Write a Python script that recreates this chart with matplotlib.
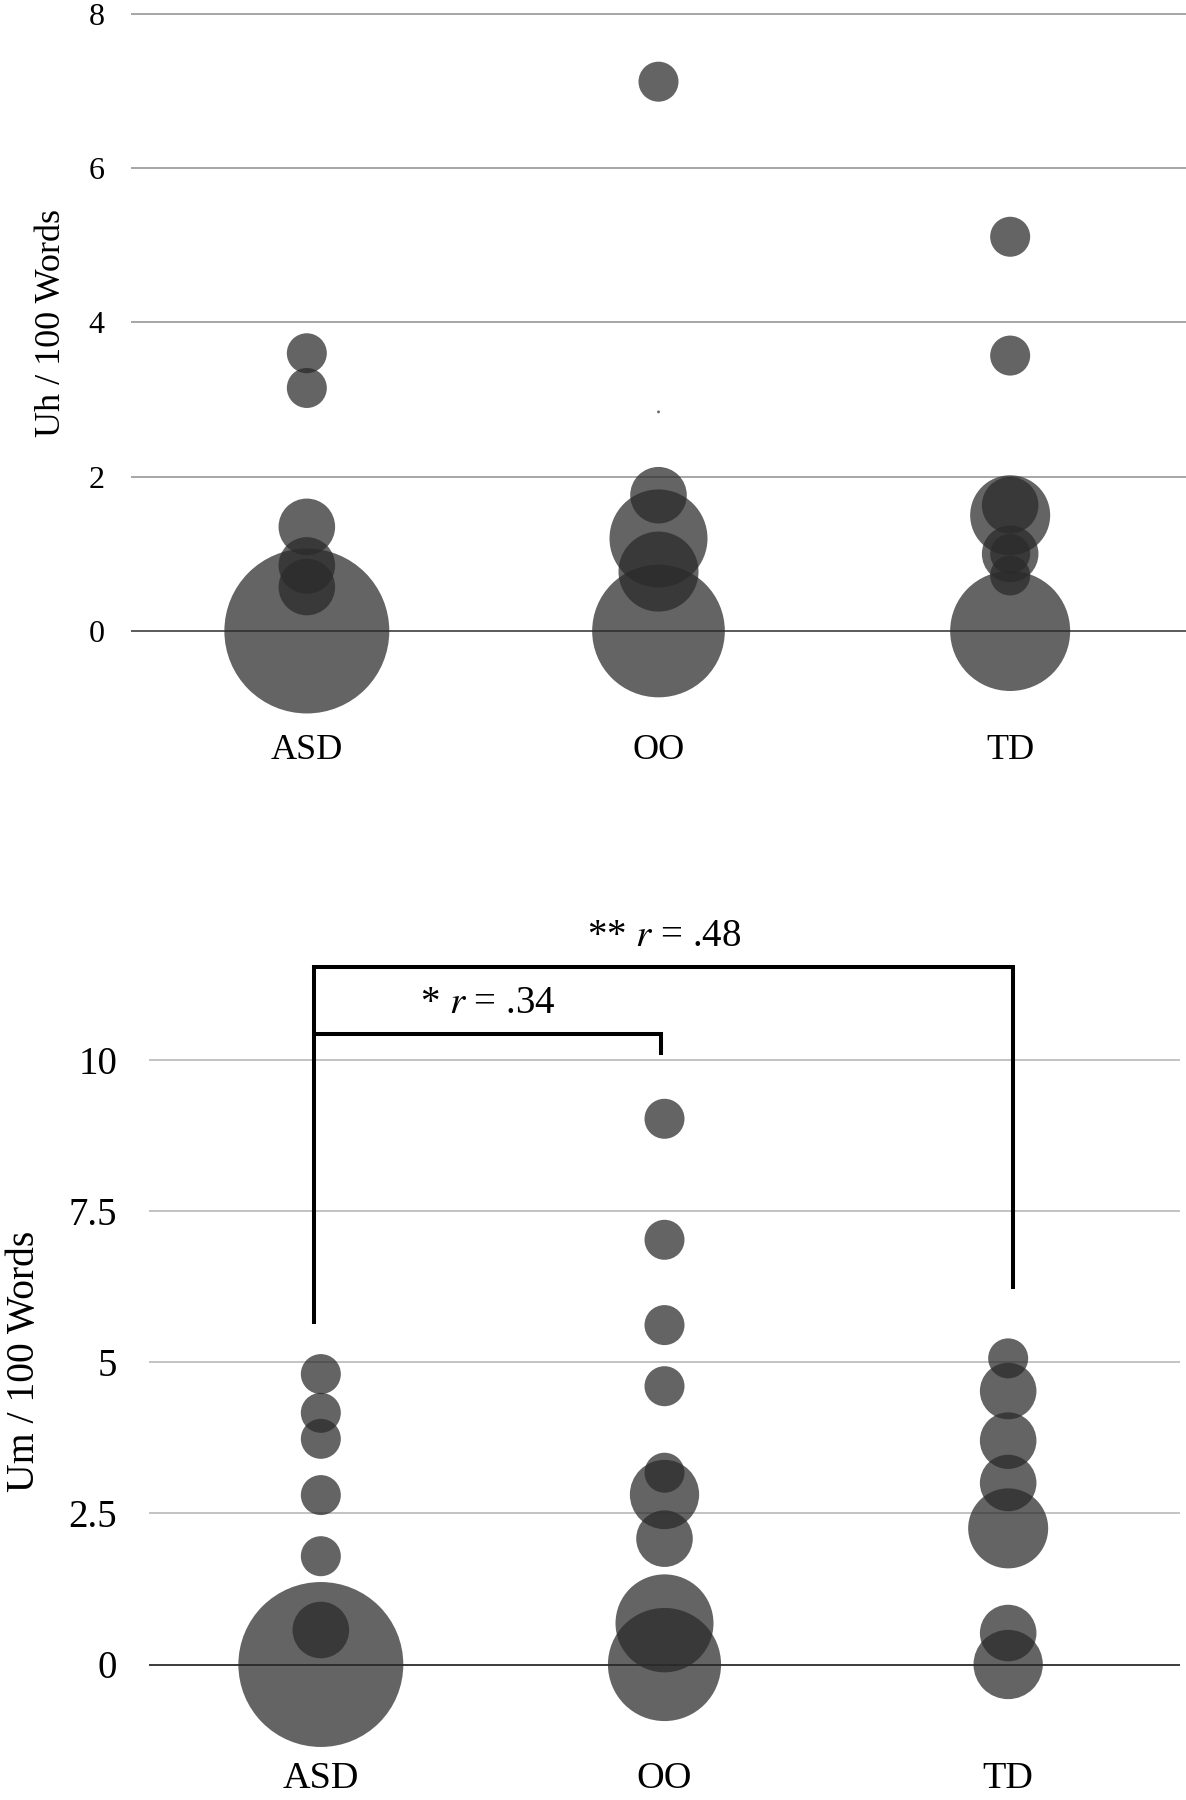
import matplotlib
matplotlib.use('Agg')
import matplotlib.pyplot as plt

W, H, DPI = 1186, 1800, 100
plt.rcParams['font.family'] = ['Liberation Serif', 'DejaVu Serif']
plt.rcParams['mathtext.fontset'] = 'stix'

categories = ['ASD', 'OO', 'TD']

# Top panel: Uh / 100 words (value, bubble size = count)
uh_asd_y = [0, 0.57, 0.85, 1.35, 3.15, 3.6]
uh_asd_n = [17, 2, 2, 2, 1, 1]
uh_oo_y = [0, 0.77, 1.2, 1.76, 2.84, 7.12]
uh_oo_n = [11, 4, 6, 2, 0.005, 1]
uh_td_y = [0, 0.72, 1.0, 1.0, 1.5, 1.63, 3.57, 5.11]
uh_td_n = [9, 1, 1, 2, 4, 2, 1, 1]
uh_ticks = [0, 2, 4, 6, 8]

# Bottom panel: Um / 100 words
um_asd_y = [0, 0.57, 1.79, 2.80, 3.73, 4.16, 4.8]
um_asd_n = [17, 2, 1, 1, 1, 1, 1]
um_oo_y = [0, 0.68, 2.08, 2.81, 3.17, 4.6, 5.61, 7.02, 9.02]
um_oo_n = [8, 6, 2, 3, 1, 1, 1, 1, 1]
um_td_y = [0, 0.52, 2.25, 3.0, 3.7, 4.52, 5.06]
um_td_n = [3, 2, 4, 2, 2, 2, 1]
um_ticks = [0, 2.5, 5, 7.5, 10]
um_ticklabels = ['0', '2.5', '5', '7.5', '10']

sig_labels = [r'* $r$ = .34', r'** $r$ = .48']

BUBBLE_COLOR = '#2a2a2a'
BUBBLE_ALPHA = 0.73
S_UNIT = (40 * 72 / DPI) ** 2  # area (pt^2) of a size-1 bubble

fig = plt.figure(figsize=(W / DPI, H / DPI), dpi=DPI)


def px_axes(left, right, top, bottom):
    return fig.add_axes([left / W, 1 - bottom / H, (right - left) / W, (bottom - top) / H])


def draw_bubbles(ax, series):
    for i, (ys, ns) in enumerate(series):
        ax.scatter([i] * len(ys), ys, s=[n * S_UNIT for n in ns], color=BUBBLE_COLOR,
                   alpha=BUBBLE_ALPHA, linewidths=0, clip_on=False, zorder=3)


def style(ax, ticks, ticklabels, grid_color, grid_lw, zero_color, fs, pad):
    for sp in ax.spines.values():
        sp.set_visible(False)
    ax.set_xlim(-0.5, 2.5)
    ax.set_xticks([])
    ax.set_yticks(ticks)
    ax.set_yticklabels(ticklabels, fontsize=fs)
    ax.tick_params(axis='y', length=0, pad=pad)
    for t in ticks:
        if t == 0:
            ax.axhline(t, color=zero_color, lw=grid_lw, zorder=1)
        else:
            ax.axhline(t, color=grid_color, lw=grid_lw, zorder=1)


# ---------- Top panel ----------
ppu1 = 77.15
y0_1 = 631
ax1 = px_axes(131, 1186, y0_1 - 8.1 * ppu1, y0_1 + 1.2 * ppu1)
ax1.set_ylim(-1.2, 8.1)
style(ax1, uh_ticks, [str(t) for t in uh_ticks], '#a6a6a6', 1.4, '#5a5a5a', 23, 19)
draw_bubbles(ax1, [(uh_asd_y, uh_asd_n), (uh_oo_y, uh_oo_n), (uh_td_y, uh_td_n)])
for i, c in enumerate(categories):
    ax1.text(i, (y0_1 - 750) / ppu1, c, ha='center', va='center', fontsize=26, clip_on=False)
fig.text(52 / W, 1 - 323 / H, 'Uh / 100 Words', rotation=90, ha='center', va='center', fontsize=26)

# ---------- Bottom panel ----------
ppu2 = 60.5
y0_2 = 1664.5
ax2 = px_axes(149, 1180, y0_2 - 12.5 * ppu2, y0_2 + 1.5 * ppu2)
ax2.set_ylim(-1.5, 12.5)
style(ax2, um_ticks, um_ticklabels, '#b9b9b9', 1.2, '#1a1a1a', 28, 23)
draw_bubbles(ax2, [(um_asd_y, um_asd_n), (um_oo_y, um_oo_n), (um_td_y, um_td_n)])
for i, c in enumerate(categories):
    ax2.text(i, (y0_2 - 1779) / ppu2, c, ha='center', va='center', fontsize=27.5, clip_on=False)
fig.text(25 / W, 1 - 1361 / H, 'Um / 100 Words', rotation=90, ha='center', va='center', fontsize=28.5)

# significance brackets
br_kw = dict(color='black', lw=2.9, clip_on=False, zorder=4,
             solid_joinstyle='miter', solid_capstyle='butt')
ax2.plot([-0.02, -0.02, 2.013, 2.013], [5.63, 11.53, 11.53, 6.21], **br_kw)
ax2.plot([-0.02, 0.99, 0.99], [10.42, 10.42, 10.08], **br_kw)
ax2.text(0.485, 10.93, sig_labels[0], ha='center', va='center', fontsize=28, clip_on=False)
ax2.text(0.998, 12.03, sig_labels[1], ha='center', va='center', fontsize=28, clip_on=False)

fig.savefig('out.png', dpi=DPI)
